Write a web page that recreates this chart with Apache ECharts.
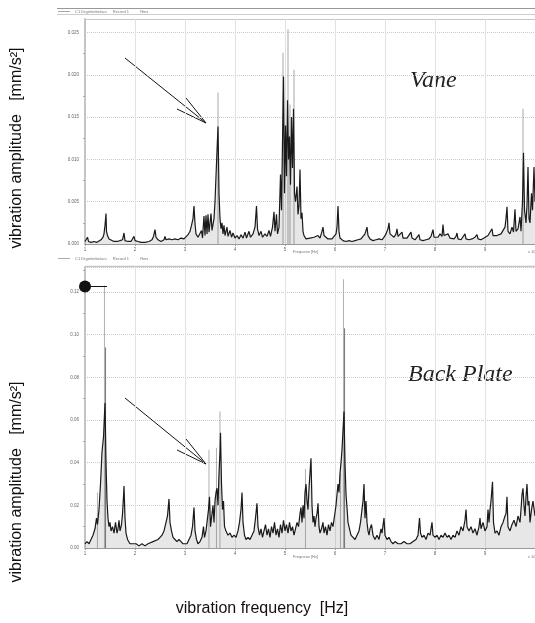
<!DOCTYPE html>
<html>
<head>
<meta charset="utf-8">
<script src="https://cdn.jsdelivr.net/npm/echarts@6/dist/echarts.min.js"></script>
<style>
html, body { margin: 0; padding: 0; background: #fff; }
#container { width: 535px; height: 623px; }
</style>
</head>
<body>
<div id="container"></div>
<script>
var dom = document.getElementById("container");
var chart = echarts.init(dom, null, { renderer: "canvas" });

// Vane spectrum: [frequency, amplitude mm/s^2]
const vaneTrace = [
    [1.00,0.0003],[1.03,0.0004],[1.05,0.0008],[1.07,0.0003],[1.12,0.0002],[1.18,0.0003],[1.24,0.0002],[1.28,0.0004],
    [1.32,0.0005],[1.36,0.0008],[1.38,0.0012],[1.40,0.0022],[1.42,0.0036],[1.43,0.0015],[1.45,0.0010],[1.48,0.0006],
    [1.52,0.0004],[1.58,0.0003],[1.64,0.0003],[1.70,0.0004],[1.75,0.0005],[1.78,0.0013],[1.80,0.0004],[1.86,0.0003],
    [1.92,0.0003],[1.96,0.0005],[1.98,0.0009],[2.00,0.0004],[2.06,0.0003],[2.12,0.0002],[2.20,0.0002],[2.28,0.0003],
    [2.34,0.0005],[2.37,0.0009],[2.40,0.0017],[2.42,0.0008],[2.46,0.0005],[2.52,0.0003],[2.58,0.0005],[2.60,0.0009],
    [2.62,0.0005],[2.68,0.0006],[2.74,0.0005],[2.80,0.0006],[2.86,0.0005],[2.92,0.0007],[2.98,0.0006],[3.02,0.0008],
    [3.06,0.0011],[3.10,0.0015],[3.13,0.0022],[3.16,0.0030],[3.18,0.0045],[3.20,0.0024],[3.22,0.0012],[3.26,0.0008],
    [3.30,0.0007],[3.33,0.0016],[3.35,0.0007],[3.38,0.0033],[3.40,0.0010],[3.42,0.0034],[3.44,0.0012],[3.46,0.0035],
    [3.48,0.0014],[3.52,0.0036],[3.54,0.0016],[3.58,0.0030],[3.60,0.0050],[3.62,0.0080],[3.64,0.0110],[3.66,0.0139],
    [3.68,0.0060],[3.70,0.0030],[3.72,0.0018],[3.74,0.0025],[3.76,0.0012],[3.78,0.0022],[3.80,0.0010],[3.84,0.0020],
    [3.86,0.0009],[3.90,0.0016],[3.93,0.0008],[3.96,0.0013],[4.00,0.0007],[4.04,0.0010],[4.08,0.0006],[4.12,0.0011],
    [4.16,0.0007],[4.20,0.0014],[4.23,0.0007],[4.28,0.0015],[4.31,0.0008],[4.36,0.0012],[4.40,0.0020],[4.43,0.0045],
    [4.45,0.0018],[4.48,0.0010],[4.52,0.0015],[4.55,0.0008],[4.60,0.0012],[4.64,0.0009],[4.68,0.0016],[4.71,0.0009],
    [4.75,0.0020],[4.78,0.0038],[4.80,0.0015],[4.83,0.0035],[4.85,0.0012],[4.88,0.0020],[4.91,0.0082],[4.93,0.0040],
    [4.95,0.0120],[4.97,0.0198],[4.99,0.0060],[5.01,0.0140],[5.03,0.0080],[5.05,0.0170],[5.07,0.0100],[5.09,0.0127],
    [5.11,0.0070],[5.13,0.0150],[5.15,0.0090],[5.17,0.0160],[5.19,0.0060],[5.21,0.0050],[5.24,0.0068],[5.26,0.0035],
    [5.28,0.0045],[5.30,0.0088],[5.32,0.0030],[5.34,0.0037],[5.36,0.0015],[5.38,0.0010],[5.42,0.0006],[5.46,0.0005],
    [5.50,0.0007],[5.54,0.0005],[5.58,0.0008],[5.62,0.0006],[5.66,0.0010],[5.70,0.0007],[5.74,0.0015],[5.76,0.0020],
    [5.78,0.0010],[5.82,0.0008],[5.86,0.0006],[5.90,0.0007],[5.94,0.0006],[5.98,0.0008],[6.02,0.0012],[6.04,0.0020],
    [6.06,0.0045],[6.08,0.0015],[6.10,0.0007],[6.16,0.0004],[6.22,0.0003],[6.28,0.0004],[6.34,0.0003],[6.40,0.0004],
    [6.46,0.0005],[6.52,0.0006],[6.56,0.0008],[6.60,0.0012],[6.64,0.0020],[6.66,0.0010],[6.70,0.0006],[6.76,0.0004],
    [6.82,0.0005],[6.88,0.0006],[6.94,0.0005],[6.98,0.0008],[7.02,0.0012],[7.06,0.0018],[7.08,0.0025],[7.10,0.0012],
    [7.14,0.0010],[7.18,0.0008],[7.22,0.0012],[7.24,0.0018],[7.26,0.0009],[7.30,0.0008],[7.34,0.0014],[7.36,0.0007],
    [7.40,0.0006],[7.44,0.0007],[7.48,0.0009],[7.52,0.0014],[7.54,0.0007],[7.60,0.0005],[7.64,0.0007],[7.68,0.0011],
    [7.70,0.0005],[7.76,0.0004],[7.82,0.0005],[7.88,0.0006],[7.92,0.0009],[7.96,0.0017],[7.98,0.0008],[8.02,0.0010],
    [8.06,0.0008],[8.10,0.0012],[8.14,0.0009],[8.16,0.0023],[8.18,0.0010],[8.22,0.0009],[8.26,0.0012],[8.30,0.0007],
    [8.34,0.0008],[8.38,0.0006],[8.42,0.0009],[8.44,0.0013],[8.46,0.0006],[8.52,0.0005],[8.56,0.0007],[8.60,0.0012],
    [8.62,0.0006],[8.68,0.0005],[8.74,0.0006],[8.80,0.0008],[8.84,0.0011],[8.86,0.0006],[8.92,0.0005],[8.98,0.0007],
    [9.02,0.0008],[9.06,0.0010],[9.10,0.0012],[9.14,0.0018],[9.16,0.0010],[9.20,0.0008],[9.24,0.0010],[9.28,0.0009],
    [9.32,0.0012],[9.36,0.0010],[9.40,0.0020],[9.42,0.0030],[9.44,0.0044],[9.46,0.0015],[9.50,0.0012],[9.54,0.0020],
    [9.57,0.0014],[9.60,0.0041],[9.62,0.0015],[9.66,0.0018],[9.70,0.0032],[9.72,0.0015],[9.75,0.0050],[9.77,0.0108],
    [9.79,0.0040],[9.82,0.0025],[9.84,0.0046],[9.86,0.0091],[9.88,0.0030],[9.90,0.0025],[9.93,0.0060],[9.95,0.0040],
    [9.98,0.0091],[10.0,0.0050]
];
const vaneSpikes = [[3.66,0.0179],[4.96,0.0226],[5.06,0.0254],[5.10,0.0165],[5.18,0.0206],[9.76,0.0160]];

// Back plate spectrum
const plateTrace = [
    [1.00,0.002],[1.04,0.003],[1.08,0.002],[1.12,0.004],[1.16,0.006],[1.20,0.009],[1.23,0.014],[1.25,0.011],
    [1.28,0.018],[1.31,0.030],[1.34,0.045],[1.37,0.052],[1.40,0.068],[1.42,0.040],[1.44,0.022],[1.46,0.014],
    [1.48,0.010],[1.50,0.012],[1.52,0.008],[1.55,0.010],[1.58,0.007],[1.61,0.012],[1.64,0.007],[1.66,0.009],
    [1.68,0.013],[1.70,0.008],[1.73,0.011],[1.75,0.016],[1.77,0.024],[1.78,0.029],[1.80,0.014],[1.82,0.007],
    [1.85,0.004],[1.90,0.002],[1.96,0.002],[2.02,0.002],[2.08,0.001],[2.14,0.002],[2.20,0.001],[2.26,0.002],
    [2.30,0.002],[2.36,0.003],[2.40,0.003],[2.46,0.004],[2.50,0.005],[2.54,0.006],[2.58,0.008],[2.62,0.012],
    [2.65,0.015],[2.68,0.023],[2.70,0.012],[2.73,0.008],[2.76,0.005],[2.80,0.004],[2.84,0.003],[2.88,0.004],
    [2.92,0.003],[2.96,0.002],[3.00,0.002],[3.04,0.002],[3.08,0.004],[3.12,0.006],[3.15,0.010],[3.18,0.019],
    [3.20,0.008],[3.23,0.004],[3.26,0.002],[3.30,0.003],[3.34,0.005],[3.37,0.010],[3.39,0.005],[3.42,0.008],
    [3.45,0.014],[3.47,0.018],[3.49,0.024],[3.51,0.010],[3.53,0.014],[3.56,0.020],[3.58,0.012],[3.60,0.022],
    [3.62,0.026],[3.64,0.028],[3.66,0.020],[3.68,0.035],[3.70,0.045],[3.71,0.054],[3.73,0.030],[3.75,0.018],
    [3.77,0.022],[3.79,0.010],[3.82,0.008],[3.86,0.006],[3.90,0.007],[3.94,0.005],[3.98,0.006],[4.02,0.005],
    [4.06,0.008],[4.09,0.012],[4.12,0.018],[4.14,0.026],[4.16,0.012],[4.19,0.006],[4.22,0.004],[4.26,0.005],
    [4.30,0.004],[4.34,0.006],[4.38,0.008],[4.41,0.014],[4.44,0.021],[4.46,0.010],[4.49,0.006],[4.52,0.009],
    [4.55,0.005],[4.58,0.008],[4.61,0.011],[4.64,0.006],[4.67,0.009],[4.70,0.005],[4.73,0.010],[4.76,0.007],
    [4.79,0.012],[4.82,0.006],[4.85,0.009],[4.88,0.005],[4.91,0.011],[4.94,0.007],[4.97,0.013],[5.00,0.008],
    [5.03,0.011],[5.06,0.007],[5.09,0.012],[5.12,0.008],[5.15,0.010],[5.18,0.006],[5.21,0.009],[5.24,0.012],
    [5.27,0.010],[5.30,0.016],[5.32,0.019],[5.34,0.012],[5.36,0.020],[5.38,0.014],[5.40,0.026],[5.42,0.030],
    [5.44,0.022],[5.46,0.018],[5.48,0.028],[5.50,0.035],[5.52,0.042],[5.54,0.020],[5.56,0.012],[5.58,0.015],
    [5.60,0.010],[5.62,0.014],[5.64,0.016],[5.66,0.021],[5.68,0.010],[5.70,0.007],[5.73,0.009],[5.76,0.012],
    [5.78,0.007],[5.81,0.010],[5.84,0.006],[5.87,0.011],[5.90,0.008],[5.93,0.012],[5.96,0.010],[5.99,0.015],
    [6.02,0.020],[6.04,0.025],[6.06,0.030],[6.08,0.026],[6.10,0.035],[6.12,0.040],[6.14,0.046],[6.16,0.055],
    [6.18,0.064],[6.20,0.040],[6.22,0.025],[6.24,0.019],[6.26,0.012],[6.29,0.009],[6.32,0.006],[6.36,0.005],
    [6.40,0.004],[6.44,0.006],[6.48,0.008],[6.51,0.012],[6.54,0.018],[6.56,0.022],[6.58,0.030],[6.60,0.014],
    [6.62,0.022],[6.64,0.012],[6.66,0.008],[6.68,0.006],[6.70,0.009],[6.73,0.011],[6.76,0.006],[6.80,0.004],
    [6.84,0.006],[6.88,0.004],[6.92,0.009],[6.94,0.007],[6.98,0.014],[7.00,0.006],[7.04,0.004],[7.08,0.005],
    [7.12,0.003],[7.16,0.002],[7.20,0.003],[7.26,0.002],[7.32,0.002],[7.38,0.003],[7.44,0.002],[7.50,0.002],
    [7.56,0.003],[7.62,0.004],[7.66,0.006],[7.69,0.014],[7.71,0.007],[7.74,0.005],[7.78,0.006],[7.82,0.004],
    [7.86,0.007],[7.90,0.006],[7.94,0.012],[7.96,0.006],[8.00,0.005],[8.04,0.006],[8.08,0.004],[8.12,0.006],
    [8.16,0.005],[8.20,0.007],[8.24,0.005],[8.28,0.006],[8.32,0.004],[8.36,0.006],[8.40,0.005],[8.44,0.008],
    [8.48,0.006],[8.52,0.010],[8.56,0.008],[8.60,0.013],[8.62,0.018],[8.64,0.010],[8.68,0.008],[8.72,0.010],
    [8.76,0.007],[8.80,0.009],[8.84,0.006],[8.88,0.010],[8.90,0.014],[8.92,0.009],[8.96,0.012],[9.00,0.008],
    [9.04,0.010],[9.06,0.018],[9.08,0.012],[9.10,0.018],[9.12,0.022],[9.15,0.031],[9.17,0.012],[9.20,0.007],
    [9.24,0.008],[9.28,0.006],[9.32,0.010],[9.36,0.012],[9.40,0.015],[9.42,0.016],[9.44,0.024],[9.46,0.010],
    [9.50,0.008],[9.54,0.011],[9.58,0.013],[9.62,0.010],[9.66,0.015],[9.70,0.012],[9.72,0.018],[9.74,0.025],
    [9.76,0.028],[9.78,0.020],[9.80,0.015],[9.82,0.024],[9.84,0.030],[9.86,0.020],[9.88,0.022],[9.90,0.012],
    [9.93,0.018],[9.96,0.022],[10.0,0.015]
];
const plateSpikes = [[1.26,0.026],[1.40,0.123],[3.49,0.046],[3.64,0.047],[3.71,0.064],[5.42,0.037],[6.12,0.035],[6.18,0.126]];
const plateMidSpikes = [[1.40,0.094],[6.18,0.103]];

const freqMin = 1, freqMax = 10;
const vaneMax = 0.0266, vaneStep = 0.005;
const plateMax = 0.1317, plateStep = 0.02;
const peakMark = [1.0, 0.1226, 1.44];

const tiny = { fontSize: 4.5, color: "#666", fontFamily: "Liberation Sans" };

function xAxisFor(idx) {
    return {
        type: "value", gridIndex: idx, min: freqMin, max: freqMax, interval: 1,
        axisLine: { lineStyle: { color: "#999", width: 1 } },
        axisTick: { length: 2, lineStyle: { color: "#999" } },
        axisLabel: Object.assign({ margin: 3, showMaxLabel: false }, tiny),
        splitLine: { lineStyle: { color: "#e2e2e2", width: 1 } }
    };
}
function yAxisFor(idx, max, step, digits) {
    return {
        type: "value", gridIndex: idx, min: 0, max: max, interval: step,
        axisLine: { show: true, lineStyle: { color: "#c4c4c4", width: 2 } },
        axisTick: { show: false },
        minorTick: { show: true, splitNumber: 2, length: 2, lineStyle: { color: "#aaa" } },
        axisLabel: Object.assign({ margin: 6, showMaxLabel: false, formatter: function (v) { return v.toFixed(digits); } }, tiny),
        splitLine: { lineStyle: { color: "#c8c8c8", type: "dotted", width: 1 } }
    };
}
function traceSeries(idx, data) {
    return {
        type: "line", xAxisIndex: idx, yAxisIndex: idx, data: data, showSymbol: false, z: 3,
        lineStyle: { color: "#1a1a1a", width: 1.2 },
        areaStyle: { color: "#555", opacity: 0.14 },
        silent: true
    };
}
function spikeSeries(idx, data, color) {
    return {
        type: "bar", xAxisIndex: idx, yAxisIndex: idx, data: data, barWidth: 1, z: 2,
        itemStyle: { color: color }, silent: true
    };
}

var plateSeries = traceSeries(1, plateTrace);
plateSeries.markLine = {
    silent: true, symbol: ["circle", "none"], symbolSize: 12, animation: false,
    label: { show: false },
    lineStyle: { color: "#111", width: 1, type: "solid" },
    itemStyle: { color: "#111" },
    data: [[{ coord: [peakMark[0], peakMark[1]] }, { coord: [peakMark[2], peakMark[1]] }]]
};

option = {
    animation: false,
    grid: [
        { left: 85, top: 19, right: 0, height: 225 },
        { left: 85, top: 267, right: 0, height: 281 }
    ],
    xAxis: [xAxisFor(0), xAxisFor(1)],
    yAxis: [yAxisFor(0, vaneMax, vaneStep, 3), yAxisFor(1, plateMax, plateStep, 2)],
    series: [
        spikeSeries(0, vaneSpikes, "#a8a8a8"),
        traceSeries(0, vaneTrace),
        spikeSeries(1, plateSpikes, "#b0b0b0"),
        spikeSeries(1, plateMidSpikes, "#777"),
        plateSeries
    ],
    graphic: {
        elements: [
            // header bar of the upper analyser screenshot
            { type: "line", shape: { x1: 57, y1: 8.5, x2: 535, y2: 8.5 }, style: { stroke: "#999", lineWidth: 1 } },
            { type: "line", shape: { x1: 57, y1: 14.5, x2: 535, y2: 14.5 }, style: { stroke: "#ccc", lineWidth: 1 } },
            { type: "line", shape: { x1: 85, y1: 19.5, x2: 535, y2: 19.5 }, style: { stroke: "#c4c4c4", lineWidth: 1 } },
            { type: "line", shape: { x1: 58, y1: 11.5, x2: 70, y2: 11.5 }, style: { stroke: "#aaa", lineWidth: 1 } },
            { type: "text", x: 75, y: 11.5, style: { text: "C1 Drgetriebe/acc     Record 1          Rms", font: "4px 'Liberation Sans'", fill: "#777", verticalAlign: "middle" } },
            { type: "text", x: 293, y: 252, style: { text: "Frequenz [Hz]", font: "4px 'Liberation Sans'", fill: "#777", verticalAlign: "middle" } },
            { type: "text", x: 528, y: 252, style: { text: "x 10", font: "4px 'Liberation Sans'", fill: "#777", verticalAlign: "middle" } },
            // header of the lower screenshot
            { type: "line", shape: { x1: 58, y1: 258.5, x2: 70, y2: 258.5 }, style: { stroke: "#aaa", lineWidth: 1 } },
            { type: "text", x: 75, y: 258.5, style: { text: "C1 Drgetriebe/acc     Record 1          Rms", font: "4px 'Liberation Sans'", fill: "#777", verticalAlign: "middle" } },
            { type: "line", shape: { x1: 85, y1: 266.5, x2: 535, y2: 266.5 }, style: { stroke: "#c4c4c4", lineWidth: 1.5 } },
            { type: "text", x: 293, y: 557, style: { text: "Frequenz [Hz]", font: "4px 'Liberation Sans'", fill: "#777", verticalAlign: "middle" } },
            { type: "text", x: 528, y: 557, style: { text: "x 10", font: "4px 'Liberation Sans'", fill: "#777", verticalAlign: "middle" } },
            // panel titles
            { type: "text", x: 410, y: 81, style: { text: "Vane", font: "italic 24px 'Liberation Serif'", fill: "#222", verticalAlign: "middle" } },
            { type: "text", x: 408, y: 375, style: { text: "Back Plate", font: "italic 24px 'Liberation Serif'", fill: "#222", verticalAlign: "middle" } },
            // arrows
            { type: "polyline", shape: { points: [[125, 58], [206, 123]] }, style: { stroke: "#111", lineWidth: 1 } },
            { type: "polyline", shape: { points: [[186, 98], [206, 123], [177, 109]] }, style: { stroke: "#111", lineWidth: 1, fill: null } },
            { type: "polyline", shape: { points: [[125, 398], [206, 464]] }, style: { stroke: "#111", lineWidth: 1 } },
            { type: "polyline", shape: { points: [[186, 439], [206, 464], [177, 450]] }, style: { stroke: "#111", lineWidth: 1, fill: null } },
            // axis titles
            { type: "text", x: 17, y: 148, rotation: Math.PI / 2, style: { text: "vibration amplitude   [mm/s²]", font: "16px 'Liberation Sans'", fill: "#111", align: "center", verticalAlign: "middle" } },
            { type: "text", x: 17, y: 482, rotation: Math.PI / 2, style: { text: "vibration amplitude   [mm/s²]", font: "16px 'Liberation Sans'", fill: "#111", align: "center", verticalAlign: "middle" } },
            { type: "text", x: 262, y: 609, style: { text: "vibration frequency  [Hz]", font: "16px 'Liberation Sans'", fill: "#111", align: "center", verticalAlign: "middle" } }
        ]
    }
};

chart.setOption(option);
</script>
</body>
</html>
